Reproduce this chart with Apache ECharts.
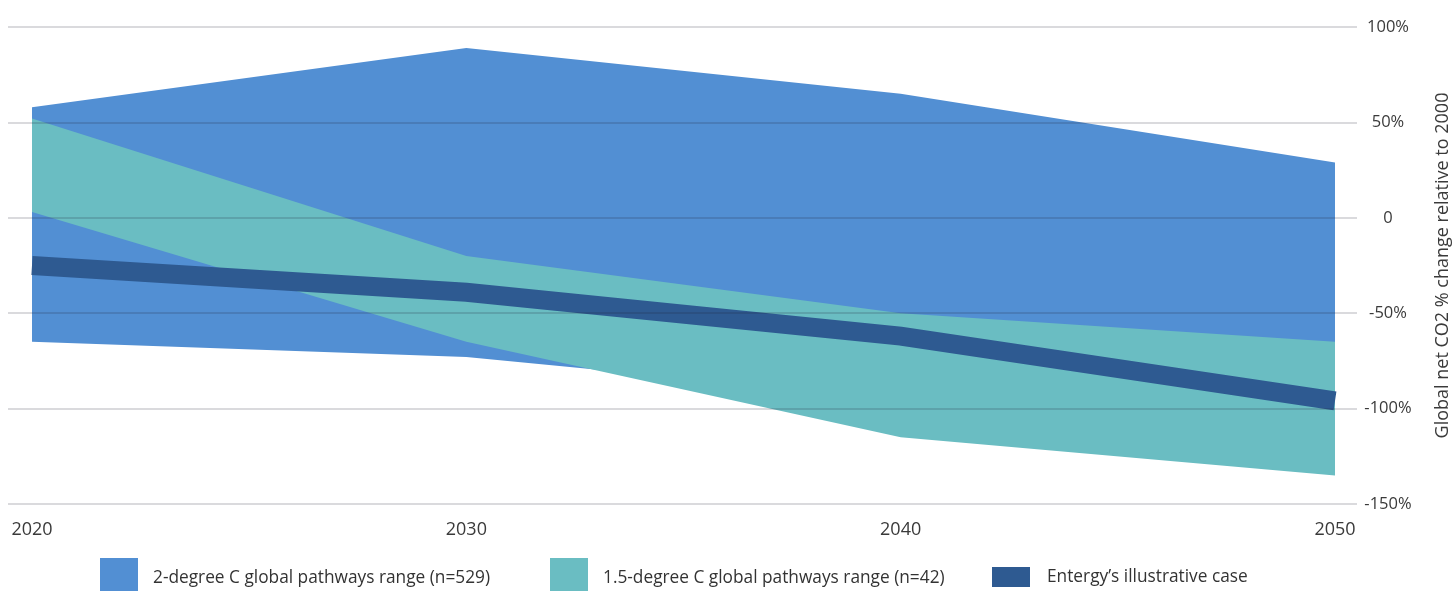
<!DOCTYPE html>
<html>
<head>
<meta charset="utf-8">
<script src="https://cdn.jsdelivr.net/npm/echarts@6/dist/echarts.min.js"></script>
<style>
html,body{margin:0;padding:0;background:#fff;}
#chart{width:1455px;height:591px;}
</style>
</head>
<body>
<div id="chart"></div>
<script>
// ---- Data (percent change relative to 2000) ----
var years = ['2020', '2030', '2040', '2050'];
var twoDegUpper = [58, 89, 65, 29];
var twoDegLower = [-65, -73, -95, -115];
var onePointFiveUpper = [52, -20, -50, -65];
var onePointFiveLower = [3, -65, -115, -135];
var entergyCase = [-25, -39, -62, -96];

var NAME_2 = '2-degree C global pathways range (n=529)';
var NAME_15 = '1.5-degree C global pathways range (n=42)';
var NAME_E = "Entergy\u2019s illustrative case";

var BLUE = '#528fd3';
var TEAL = '#6abdc2';
var DARK = '#2e5a91';

function spans(up, lo) { return up.map(function (u, i) { return u - lo[i]; }); }

var chart = echarts.init(document.getElementById('chart'), null, {renderer: 'canvas'});
var font = 'Open Sans';
var textColor = '#3a3a3a';

chart.setOption({
  animation: false,
  backgroundColor: '#fff',
  grid: [
    {left: 8, right: 98, top: 27, bottom: 87, containLabel: false, outerBoundsMode: 'none'},
    {left: 32, right: 120, top: 27, bottom: 87, containLabel: false, outerBoundsMode: 'none'}
  ],
  xAxis: [
    {type: 'value', gridIndex: 0, min: 0, max: 1, show: false},
    {
      type: 'category', gridIndex: 1, data: years, boundaryGap: false,
      axisLine: {show: false}, axisTick: {show: false}, splitLine: {show: false},
      axisLabel: {margin: 17, fontSize: 18, fontFamily: font, color: textColor}
    }
  ],
  yAxis: [
    {
      type: 'value', gridIndex: 0, position: 'right',
      min: -150, max: 100, interval: 50, z: 5,
      name: 'Global net CO2 % change relative to 2000',
      nameLocation: 'middle', nameRotate: 90, nameGap: 77,
      nameTextStyle: {fontSize: 18, fontFamily: font, color: textColor},
      axisLine: {show: false}, axisTick: {show: false},
      axisLabel: {
        margin: 31, align: 'center', fontSize: 16.5, fontFamily: font, color: textColor,
        padding: [0, 0, 10, 0],
        formatter: function (v) { return v === 0 ? '0' : v + '%'; }
      },
      splitLine: {show: true, lineStyle: {color: 'rgba(30,30,50,0.22)', width: 1.5}}
    },
    {type: 'value', gridIndex: 1, min: -150, max: 100, interval: 50, show: false, splitLine: {show: false}}
  ],
  legend: [
    {data: [NAME_2], left: 100, top: 558, padding: 0, icon: 'rect', itemWidth: 38, itemHeight: 40,
     textStyle: {fontSize: 17.3, fontFamily: font, color: '#333', padding: [0, 0, 0, 10]}},
    {data: [NAME_15], left: 550, top: 558, padding: 0, icon: 'rect', itemWidth: 38, itemHeight: 40,
     textStyle: {fontSize: 17.3, fontFamily: font, color: '#333', padding: [0, 0, 0, 10]}},
    {data: [NAME_E], left: 992, top: 567, padding: 0, icon: 'rect', itemWidth: 38, itemHeight: 20,
     textStyle: {fontSize: 17.3, fontFamily: font, color: '#333', padding: [0, 0, 0, 12]}}
  ],
  series: [
    {name: 'twoBase', type: 'line', xAxisIndex: 1, yAxisIndex: 1, stack: 'two', stackStrategy: 'all',
     data: twoDegLower, symbol: 'none', lineStyle: {opacity: 0, width: 0}, silent: true, z: 1},
    {name: NAME_2, type: 'line', xAxisIndex: 1, yAxisIndex: 1, stack: 'two', stackStrategy: 'all',
     data: spans(twoDegUpper, twoDegLower), symbol: 'none', lineStyle: {opacity: 0, width: 0},
     itemStyle: {color: BLUE}, areaStyle: {color: BLUE, opacity: 1}, z: 1},
    {name: 'onePointFiveBase', type: 'line', xAxisIndex: 1, yAxisIndex: 1, stack: 'onefive', stackStrategy: 'all',
     data: onePointFiveLower, symbol: 'none', lineStyle: {opacity: 0, width: 0}, silent: true, z: 2},
    {name: NAME_15, type: 'line', xAxisIndex: 1, yAxisIndex: 1, stack: 'onefive', stackStrategy: 'all',
     data: spans(onePointFiveUpper, onePointFiveLower), symbol: 'none', lineStyle: {opacity: 0, width: 0},
     itemStyle: {color: TEAL}, areaStyle: {color: TEAL, opacity: 1}, z: 2},
    {name: NAME_E, type: 'line', xAxisIndex: 1, yAxisIndex: 1, data: entergyCase, symbol: 'none',
     lineStyle: {color: DARK, width: 19, cap: 'butt', join: 'miter'}, itemStyle: {color: DARK}, z: 3}
  ]
});
</script>
</body>
</html>
